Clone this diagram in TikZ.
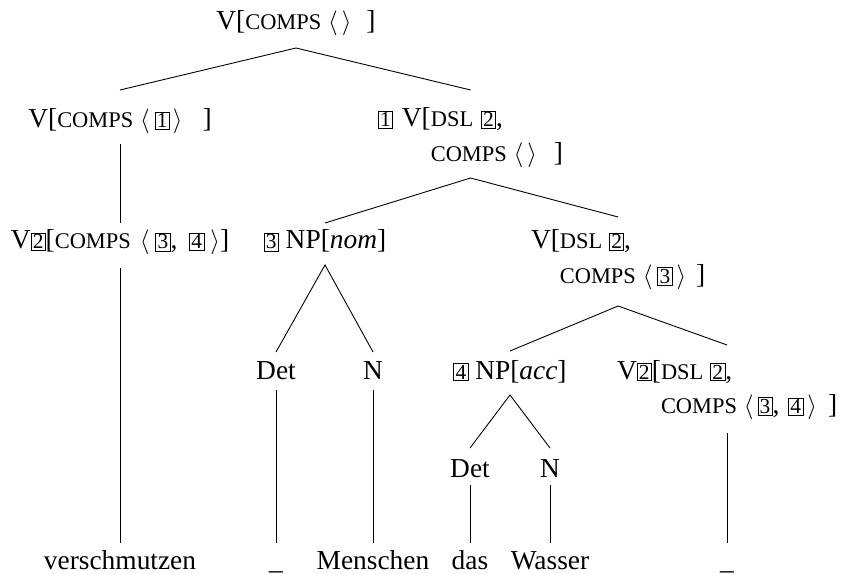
\documentclass[tikz,border=0pt]{standalone}
\usepackage{fontspec}
\setmainfont{Liberation Serif}
\usetikzlibrary{calc}
% feature names in small capitals (scaled capitals)
\newcommand\feat[1]{{\fontsize{22.5}{24}\selectfont #1}}
% boxed structure-sharing tags
\setlength{\fboxsep}{1.4pt}
\setlength{\fboxrule}{0.8pt}
\newcommand\tagbox[1]{\fbox{\fontsize{21.5}{22}\selectfont #1}}
\newcommand\lang{$\langle$}
\newcommand\rang{$\rangle$}
\begin{document}
\begin{tikzpicture}[x=1bp,y=-1bp,
  lab/.style={inner sep=0pt, outer sep=0pt, anchor=base,
    font=\fontsize{27.5}{35}\selectfont},
  labw/.style={lab, anchor=base west},
  branch/.style={line width=0.9pt}]
\useasboundingbox (0,0) rectangle (844,574);
\coordinate (wordline) at (0,569);

% category labels
\node[lab]  (s)    at (296,30)  {V[\feat{COMPS} \lang\hspace{4bp}\rang\hspace{15bp}]};
\node[lab]  (vh)   at (120,128) {V[\feat{COMPS} \lang\hspace{5bp}\tagbox{1}\hspace{3bp}\rang\hspace{20bp}]};
\node[labw] (vp)   at (378,127) {\tagbox{1}\hspace{2bp} V[\begin{tabular}[t]{@{}l@{}}\feat{DSL}\hspace{1bp} \tagbox{2},\\
  \feat{COMPS} \lang\hspace{4bp}\rang\hspace{17bp}]\end{tabular}};
\node[lab]  (vlex) at (120,249) {V\tagbox{2}[\feat{COMPS}\hspace{9bp}\lang\hspace{6bp}\tagbox{3},\hspace{5bp} \tagbox{4}\hspace{6bp}\rang]};
\node[lab]  (np1)  at (325,249) {\tagbox{3} NP[\textit{nom}]};
\node[labw] (vp2)  at (531,249) {V[\begin{tabular}[t]{@{}l@{}}\feat{DSL} \tagbox{2},\\
  \feat{COMPS} \lang\hspace{5bp}\tagbox{3}\hspace{4bp}\rang\hspace{10bp}]\end{tabular}};
\node[lab]  (det1) at (276,379) {Det};
\node[lab]  (n1)   at (373,379) {N};
\node[lab]  (np2)  at (510,379) {\tagbox{4} NP[\textit{acc}]};
\node[labw] (vt)   at (617,379) {V\tagbox{2}[\begin{tabular}[t]{@{}l@{}}\feat{DSL} \tagbox{2},\\
  \feat{COMPS} \lang\hspace{4bp}\tagbox{3},\hspace{2bp} \tagbox{4}\hspace{4bp}\rang\hspace{11bp}]\end{tabular}};
\node[lab]  (det2) at (470,477) {Det};
\node[lab]  (n2)   at (550,477) {N};

% words
\node[lab] (w1) at (vlex.base |- wordline) {verschmutzen};
\node[lab] (w2) at (det1.base |- wordline) {\_};
\node[lab] (w3) at (n1.base |- wordline)   {Menschen};
\node[lab] (w4) at (det2.base |- wordline) {das};
\node[lab] (w5) at (n2.base |- wordline)   {Wasser};
\node[lab] (w6) at (vt.base |- wordline)   {\_};

% branches
\draw[branch] ($(vh.base)+(0,-38)$) -- ($(s.base)+(0,18)$) -- ($(vp.base)+(0,-37)$);
\draw[branch] ($(vh.base)+(0,16)$) -- ($(vlex.base)+(0,-26)$);
\draw[branch] ($(np1.base)+(0,-26)$) -- ($(vp.base)+(0,51)$) -- ($(vp2.base)+(0,-32)$);
\draw[branch] ($(vlex.base)+(0,19)$) -- ($(w1.base)+(0,-26)$);
\draw[branch] ($(det1.base)+(0,-27)$) -- ($(np1.base)+(0,16)$) -- ($(n1.base)+(0,-27)$);
\draw[branch] ($(np2.base)+(0,-28)$) -- ($(vp2.base)+(0,57)$) -- ($(vt.base)+(0,-34)$);
\draw[branch] ($(det1.base)+(0,11)$) -- ($(w2.base)+(0,-26)$);
\draw[branch] ($(n1.base)+(0,11)$) -- ($(w3.base)+(0,-26)$);
\draw[branch] ($(det2.base)+(0,-29)$) -- ($(np2.base)+(0,16)$) -- ($(n2.base)+(0,-29)$);
\draw[branch] ($(det2.base)+(0,8)$) -- ($(w4.base)+(0,-26)$);
\draw[branch] ($(n2.base)+(0,8)$) -- ($(w5.base)+(0,-26)$);
\draw[branch] ($(vt.base)+(0,54)$) -- ($(w6.base)+(0,-26)$);
\end{tikzpicture}
\end{document}
